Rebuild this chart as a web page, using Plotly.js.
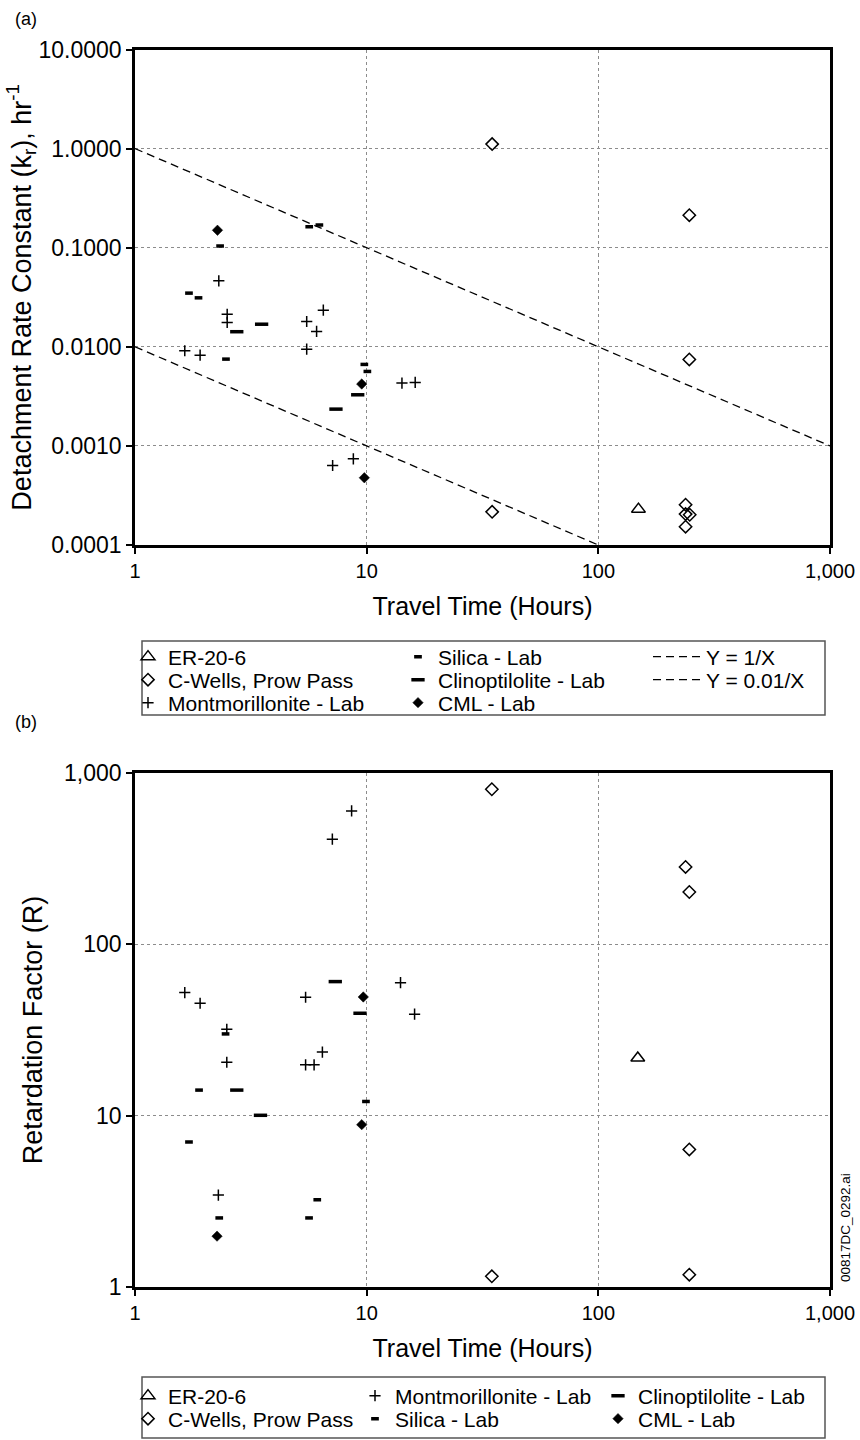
<!DOCTYPE html>
<html>
<head>
<meta charset="utf-8">
<script src="https://cdn.plot.ly/plotly-3.0.1.min.js"></script>
<style>html,body{margin:0;padding:0;background:#fff;}#chart{width:860px;height:1440px;}</style>
</head>
<body>
<div id="chart"></div>
<script>
// ---------- Panel (a): Detachment rate constant ----------
const erA_x = [149];
const erA_y = [0.00023];
const cwA_x = [34.8, 247, 247, 34.8, 238, 238, 248, 238];
const cwA_y = [1.11, 0.213, 0.00746, 0.000216, 0.000255, 0.000205, 0.000202, 0.000153];
const montA_x = [2.30, 2.50, 2.50, 5.51, 6.50, 6.08, 5.51, 1.64, 1.91, 14.2, 16.2, 7.13, 8.76];
const montA_y = [0.0463, 0.0213, 0.0176, 0.018, 0.0234, 0.0143, 0.00947, 0.00912, 0.00824, 0.0043, 0.00437, 0.000634, 0.00074];
const silA_x = [2.33, 5.65, 6.25, 1.71, 1.88, 2.47, 9.77, 10.07];
const silA_y = [0.104, 0.163, 0.169, 0.0348, 0.0312, 0.00751, 0.00664, 0.00564];
const clinA_x = [2.75, 3.52, 7.37, 9.15];
const clinA_y = [0.0142, 0.0169, 0.00235, 0.00328];
const cmlA_x = [2.27, 9.52, 9.77];
const cmlA_y = [0.150, 0.00421, 0.000477];
const line1_x = [1, 1000];
const line1_y = [1, 0.001];
const line2_x = [1, 100];
const line2_y = [0.01, 0.0001];

// ---------- Panel (b): Retardation factor ----------
const erB_x = [148];
const erB_y = [21.7];
const cwB_x = [34.7, 238, 247, 247, 34.7, 247];
const cwB_y = [804, 283, 202, 6.35, 1.155, 1.18];
const montB_x = [8.61, 7.11, 1.64, 1.91, 5.45, 14.0, 16.1, 2.49, 6.44, 5.45, 5.93, 2.49, 2.29];
const montB_y = [601, 411, 52.3, 45.3, 49.1, 59.7, 39.1, 31.9, 23.5, 19.8, 19.8, 20.5, 3.44];
const silB_x = [2.46, 1.89, 9.93, 1.71, 6.12, 2.31, 5.64];
const silB_y = [30.0, 14.1, 12.1, 7.02, 3.23, 2.53, 2.53];
const clinB_x = [7.32, 9.36, 2.75, 3.48];
const clinB_y = [60.6, 39.6, 14.1, 10.05];
const cmlB_x = [9.67, 9.52, 2.26];
const cmlB_y = [49.3, 8.86, 1.98];

// ---------- Tick labels ----------
const xTickVals = [1, 10, 100, 1000];
const xTickText = ['1', '10', '100', '1,000'];
const yA_TickVals = [0.0001, 0.001, 0.01, 0.1, 1, 10];
const yA_TickText = ['0.0001', '0.0010', '0.0100', '0.1000', '1.0000', '10.0000'];
const yB_TickVals = [1, 10, 100, 1000];
const yB_TickText = ['1', '10', '100', '1,000'];

const FONT = 'Liberation Sans, Arial, Helvetica, sans-serif';
const BLACK = '#000';

const sym = {
  er:   {symbol: 'triangle-up-open', size: 12, color: BLACK, line: {width: 1.5, color: BLACK}},
  cw:   {symbol: 'diamond-open', size: 9.5, color: BLACK, line: {width: 1.5, color: BLACK}},
  mont: {symbol: 'cross-thin', size: 8, color: BLACK, line: {width: 1.5, color: BLACK}},
  sil:  {symbol: 'line-ew', size: 5.5, color: BLACK, line: {width: 3.5, color: BLACK}},
  clin: {symbol: 'line-ew', size: 9.5, color: BLACK, line: {width: 3.5, color: BLACK}},
  cml:  {symbol: 'diamond', size: 8, color: BLACK, line: {width: 0.5, color: BLACK}}
};

function pts(name, x, y, m, xa, ya, leg) {
  return {type: 'scatter', mode: 'markers', name: name, x: x, y: y,
          xaxis: xa, yaxis: ya, marker: m, legend: leg, hoverinfo: 'x+y'};
}

const traces = [
  pts('ER-20-6', erA_x, erA_y, sym.er, 'x', 'y', 'legend'),
  pts('C-Wells, Prow Pass', cwA_x, cwA_y, sym.cw, 'x', 'y', 'legend2'),
  pts('Montmorillonite - Lab', montA_x, montA_y, sym.mont, 'x', 'y', 'legend3'),
  pts('Silica - Lab', silA_x, silA_y, sym.sil, 'x', 'y', 'legend4'),
  pts('Clinoptilolite - Lab', clinA_x, clinA_y, sym.clin, 'x', 'y', 'legend5'),
  pts('CML - Lab', cmlA_x, cmlA_y, sym.cml, 'x', 'y', 'legend6'),
  {type: 'scatter', mode: 'lines', name: 'Y = 1/X', x: line1_x, y: line1_y, xaxis: 'x', yaxis: 'y',
   line: {color: BLACK, width: 1.3, dash: '8px,5px'}, legend: 'legend7'},
  {type: 'scatter', mode: 'lines', name: 'Y = 0.01/X', x: line2_x, y: line2_y, xaxis: 'x', yaxis: 'y',
   line: {color: BLACK, width: 1.3, dash: '8px,5px'}, legend: 'legend8'},
  pts('ER-20-6', erB_x, erB_y, sym.er, 'x2', 'y2', 'legend9'),
  pts('Montmorillonite - Lab', montB_x, montB_y, sym.mont, 'x2', 'y2', 'legend10'),
  pts('Clinoptilolite - Lab', clinB_x, clinB_y, sym.clin, 'x2', 'y2', 'legend11'),
  pts('C-Wells, Prow Pass', cwB_x, cwB_y, sym.cw, 'x2', 'y2', 'legend12'),
  pts('Silica - Lab', silB_x, silB_y, sym.sil, 'x2', 'y2', 'legend13'),
  pts('CML - Lab', cmlB_x, cmlB_y, sym.cml, 'x2', 'y2', 'legend14')
];

// layout geometry (pixels -> paper)
const W = 860, H = 1440, ML = 135, MR = 30;
const PW = W - ML - MR;
const px = v => (v - ML) / PW;
const py = v => (H - v) / H;

function leg(left, row, iw) {
  return {x: px(left), y: py(row), xanchor: 'left', yanchor: 'middle',
          bgcolor: 'rgba(0,0,0,0)', borderwidth: 0, itemwidth: iw || 30,
          font: {family: FONT, size: 21, color: BLACK}, itemclick: false, itemdoubleclick: false};
}

function xax(anchor) {
  return {type: 'log', range: [0, 3], anchor: anchor, tickvals: xTickVals, ticktext: xTickText,
    showline: true, linecolor: BLACK, linewidth: 2.5, mirror: true,
    ticks: 'outside', ticklen: 6, tickwidth: 1.5, tickcolor: BLACK,
    showgrid: true, gridcolor: '#8c8c8c', griddash: 'dot', gridwidth: 1,
    tickfont: {family: FONT, size: 20, color: BLACK},
    title: {text: 'Travel Time (Hours)', font: {family: FONT, size: 25, color: BLACK}, standoff: 17},
    zeroline: false, automargin: false};
}
function yax(anchor, dom, range, tv, tt, title, so) {
  return {type: 'log', range: range, domain: dom, anchor: anchor, tickvals: tv, ticktext: tt,
    showline: true, linecolor: BLACK, linewidth: 2.5, mirror: true,
    ticks: 'outside', ticklen: 6, tickwidth: 1.5, tickcolor: BLACK,
    showgrid: true, gridcolor: '#8c8c8c', griddash: 'dot', gridwidth: 1,
    tickfont: {family: FONT, size: 23, color: BLACK},
    title: {text: title, font: {family: FONT, size: 27, color: BLACK}, standoff: so},
    zeroline: false, automargin: false};
}

const layout = {
  width: W, height: H,
  margin: {l: ML, r: MR, t: 0, b: 0},
  paper_bgcolor: '#fff', plot_bgcolor: '#fff',
  font: {family: FONT, color: BLACK},
  showlegend: true,
  xaxis: xax('y'),
  yaxis: yax('x', [py(545), py(49.5)], [-4, 1], yA_TickVals, yA_TickText,
             'Detachment Rate Constant (k<sub>r</sub>), hr<sup>-1</sup>', 0),
  xaxis2: xax('y2'),
  yaxis2: yax('x2', [py(1287), py(773)], [0, 3], yB_TickVals, yB_TickText, 'Retardation Factor (R)', 14),
  legend:   leg(128, 657),
  legend2:  leg(128, 680),
  legend3:  leg(128, 703),
  legend4:  leg(398, 657),
  legend5:  leg(398, 680),
  legend6:  leg(398, 703),
  legend7:  leg(648, 657, 48),
  legend8:  leg(648, 680, 48),
  legend9:  leg(128, 1396),
  legend12: leg(128, 1419),
  legend10: leg(355, 1396),
  legend13: leg(355, 1419),
  legend11: leg(598, 1396),
  legend14: leg(598, 1419),
  shapes: [
    {type: 'rect', xref: 'paper', yref: 'paper', x0: px(142), x1: px(825), y0: py(715), y1: py(641),
     line: {color: '#555', width: 1.5}, fillcolor: 'rgba(0,0,0,0)'},
    {type: 'rect', xref: 'paper', yref: 'paper', x0: px(142), x1: px(825), y0: py(1438), y1: py(1377),
     line: {color: '#555', width: 1.5}, fillcolor: 'rgba(0,0,0,0)'}
  ],
  annotations: [
    {text: '(a)', xref: 'paper', yref: 'paper', x: px(13), y: py(19), xanchor: 'left', yanchor: 'middle',
     showarrow: false, font: {family: FONT, size: 18, color: BLACK}},
    {text: '(b)', xref: 'paper', yref: 'paper', x: px(13), y: py(722), xanchor: 'left', yanchor: 'middle',
     showarrow: false, font: {family: FONT, size: 18, color: BLACK}},
    {text: '00817DC_0292.ai', xref: 'paper', yref: 'paper', x: px(845), y: py(1228), xanchor: 'center', yanchor: 'middle',
     textangle: -90, showarrow: false, font: {family: FONT, size: 13.5, color: BLACK}}
  ]
};

Plotly.newPlot('chart', traces, layout, {displayModeBar: false, responsive: false});
</script>
</body>
</html>
